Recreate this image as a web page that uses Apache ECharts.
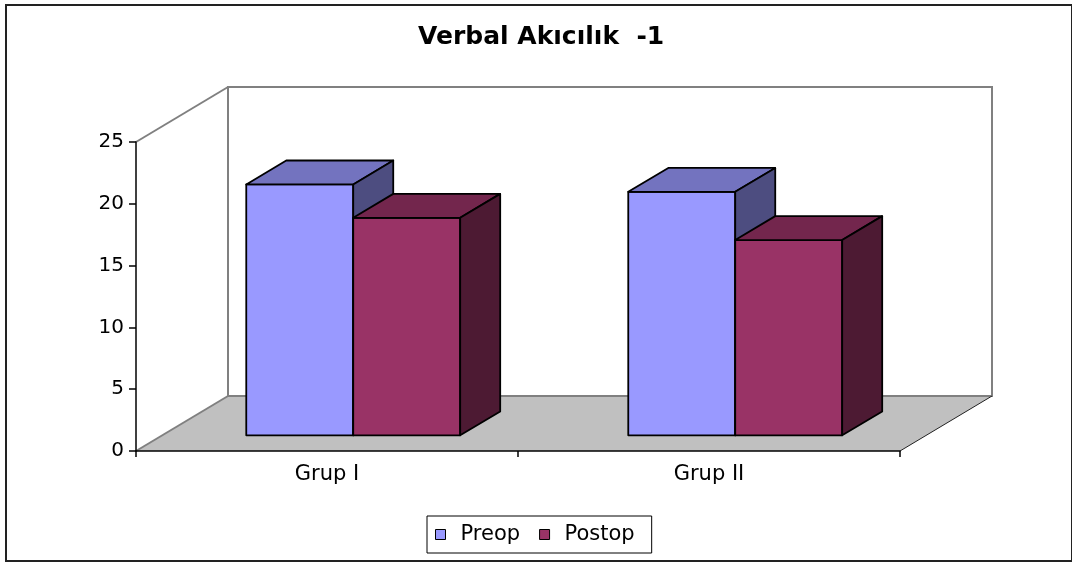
<!DOCTYPE html>
<html><head><meta charset="utf-8">
<script src="https://cdn.jsdelivr.net/npm/echarts@6/dist/echarts.min.js"></script>
<style>html,body{margin:0;padding:0;background:#fff}#c{width:1072px;height:562px}</style>
</head><body><div id="c"></div>
<script>
// ---- data ----
const categories = ['Grup I', 'Grup II'];
const seriesNames = ['Preop', 'Postop'];
const preop = [20.3, 19.7];
const postop = [17.6, 15.8];
const yMin = 0, yMax = 25, yStep = 5;
const chartTitle = 'Verbal Akıcılık  -1';

// ---- styling ----
const FONT = 'DejaVu Sans';
const DEPTH = [92, -55];                 // floor depth vector (px)
const BAR_FRONT = 0.285, BAR_BACK = 0.72; // bar placement along depth
const BAR_W = 0.28;                       // bar width as fraction of category band
const palettes = [
  {front: '#9999FF', top: '#7373BF', side: '#4D4D80'},
  {front: '#993366', top: '#73264D', side: '#4D1A33'}
];

function barRenderer(slot, pal) {
  return function (params, api) {
    const idx = api.value(0), val = api.value(1);
    const base = api.coord([idx, 0]);
    const top = api.coord([idx, val]);
    const band = api.size([1, 0])[0];
    const w = band * BAR_W;
    const x0 = base[0] + (slot === 0 ? -w : 0);
    const x1 = x0 + w;
    const fx = DEPTH[0] * BAR_FRONT, fy = DEPTH[1] * BAR_FRONT;
    const bx = DEPTH[0] * BAR_BACK, by = DEPTH[1] * BAR_BACK;
    const yb = base[1], yt = top[1];
    const st = (fill) => ({fill: fill, stroke: '#000', lineWidth: 1.8, lineJoin: 'round'});
    return {type: 'group', children: [
      {type: 'polygon', shape: {points: [[x0 + fx, yb + fy], [x1 + fx, yb + fy], [x1 + fx, yt + fy], [x0 + fx, yt + fy]]}, style: st(pal.front)},
      {type: 'polygon', shape: {points: [[x0 + fx, yt + fy], [x1 + fx, yt + fy], [x1 + bx, yt + by], [x0 + bx, yt + by]]}, style: st(pal.top)},
      {type: 'polygon', shape: {points: [[x1 + fx, yb + fy], [x1 + bx, yb + by], [x1 + bx, yt + by], [x1 + fx, yt + fy]]}, style: st(pal.side)}
    ]};
  };
}

function wallsRenderer(params, api) {
  const cs = params.coordSys;
  const x = cs.x, y = cs.y, w = cs.width, h = cs.height;
  const dx = DEPTH[0], dy = DEPTH[1];
  const gray = {stroke: '#808080', lineWidth: 2};
  return {type: 'group', children: [
    {type: 'rect', shape: {x: x + dx, y: y + dy, width: w, height: h}, style: {fill: '#fff', stroke: '#808080', lineWidth: 2}},
    {type: 'polygon', shape: {points: [[x, y + h], [x + w, y + h], [x + w + dx, y + h + dy], [x + dx, y + h + dy]]}, style: {fill: '#C0C0C0'}},
    {type: 'line', shape: {x1: x + dx, y1: y + h + dy, x2: x + w + dx, y2: y + h + dy}, style: gray},
    {type: 'line', shape: {x1: x, y1: y, x2: x + dx, y2: y + dy}, style: gray},
    {type: 'line', shape: {x1: x, y1: y + h, x2: x + dx, y2: y + h + dy}, style: gray},
    {type: 'line', shape: {x1: x + dx, y1: y + dy, x2: x + dx, y2: y + h + dy}, style: gray},
    {type: 'line', shape: {x1: x + w, y1: y + h, x2: x + w + dx, y2: y + h + dy}, style: {stroke: '#222', lineWidth: 1}}
  ]};
}

const chart = echarts.init(document.getElementById('c'), null, {renderer: 'canvas'});
chart.setOption({
  backgroundColor: '#fff',
  animation: false,
  title: {
    text: chartTitle, left: 413, top: 20,
    textStyle: {fontFamily: FONT, fontSize: 25, fontWeight: 'bold', color: '#000'}
  },
  legend: {
    data: seriesNames, left: 427, top: 516, orient: 'horizontal',
    itemWidth: 10, itemHeight: 10, itemGap: 19, icon: 'rect',
    padding: [8, 17, 8, 8], borderColor: '#000', borderWidth: 1,
    itemStyle: {borderColor: '#000', borderWidth: 1},
    textStyle: {fontFamily: FONT, fontSize: 21, color: '#000', padding: [0, 0, 0, 10]}
  },
  graphic: [{
    type: 'rect', shape: {x: 6, y: 5, width: 1066, height: 556},
    style: {fill: 'none', stroke: '#222', lineWidth: 2}, silent: true, z: 100
  }],
  grid: {left: 136, top: 142, right: 172, bottom: 111},
  xAxis: {
    type: 'category', data: categories, z: 10,
    axisLine: {lineStyle: {color: '#000', width: 1.5}},
    axisTick: {show: true, length: 6, lineStyle: {color: '#000', width: 1.5}},
    axisLabel: {fontFamily: FONT, fontSize: 21, color: '#000', margin: 13}
  },
  yAxis: {
    type: 'value', min: yMin, max: yMax, interval: yStep, z: 10,
    axisLine: {show: true, lineStyle: {color: '#000', width: 1.5}},
    axisTick: {show: true, length: 7, lineStyle: {color: '#000', width: 1.5}},
    splitLine: {show: false},
    axisLabel: {fontFamily: FONT, fontSize: 20, color: '#000', margin: 12}
  },
  series: [
    {type: 'custom', name: 'walls', silent: true, z: 1, clip: false,
     renderItem: wallsRenderer, data: [[0, 0]]},
    {type: 'custom', name: seriesNames[0], z: 3, clip: false,
     itemStyle: {color: palettes[0].front},
     renderItem: barRenderer(0, palettes[0]),
     data: preop.map((v, i) => [i, v])},
    {type: 'custom', name: seriesNames[1], z: 4, clip: false,
     itemStyle: {color: palettes[1].front},
     renderItem: barRenderer(1, palettes[1]),
     data: postop.map((v, i) => [i, v])}
  ]
});
</script></body></html>
